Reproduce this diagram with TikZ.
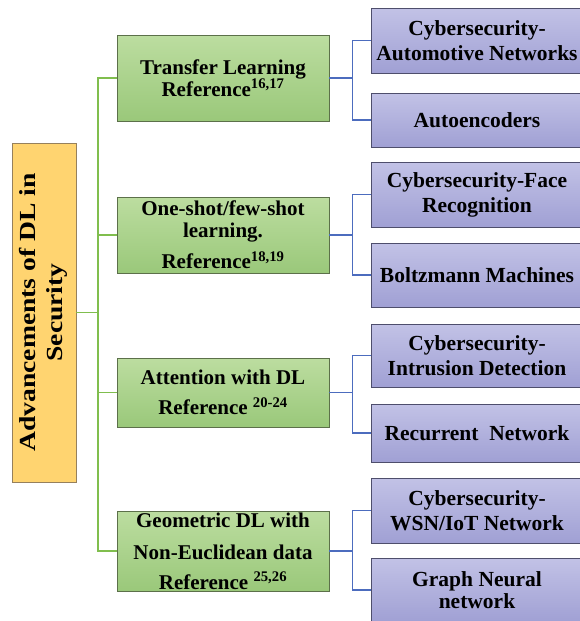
\documentclass[tikz,border=0pt]{standalone}
\usepackage{fontspec}
\setmainfont{Liberation Serif}
\newfontfamily\rootfont[FakeStretch=1.2]{Liberation Serif}
\usepackage{tikz}
\usetikzlibrary{positioning}

\definecolor{greentop}{RGB}{188,221,160}
\definecolor{greenbot}{RGB}{154,200,122}
\definecolor{greenedge}{RGB}{92,112,74}
\definecolor{bluetop}{RGB}{194,194,230}
\definecolor{bluebot}{RGB}{160,160,212}
\definecolor{blueedge}{RGB}{78,78,108}
\definecolor{rootfill}{RGB}{255,212,112}
\definecolor{rootedge}{RGB}{150,128,92}
\definecolor{trunkgreen}{RGB}{128,190,78}
\definecolor{branchblue}{RGB}{76,108,190}

\begin{document}
\begin{tikzpicture}[
  x=1pt, y=-1pt,
  rootbox/.style={rectangle, draw=rootedge, line width=0.8pt, fill=rootfill, minimum width=64pt, minimum height=339pt, inner sep=0pt, font=\fontsize{23}{27}\selectfont\rootfont\bfseries},
  topic/.style={rectangle, draw=greenedge, line width=0.9pt, top color=greentop, bottom color=greenbot, minimum width=212pt, inner sep=0pt, align=center, font=\fontsize{21}{22}\selectfont\bfseries},
  method/.style={rectangle, draw=blueedge, line width=0.9pt, top color=bluetop, bottom color=bluebot, minimum width=212pt, inner sep=0pt, align=center, font=\fontsize{21.5}{25}\selectfont\bfseries},
  trunkline/.style={draw=trunkgreen, line width=1.2pt},
  branchline/.style={draw=branchblue, line width=1.2pt}
]
  \useasboundingbox (0,0) rectangle (579,621);
  \fill[white] (0,0) rectangle (579,621);

  \node[rootbox] (root) at (44,312.5) {\rotatebox{90}{\begin{tabular}{@{}c@{}}Advancements of DL in\\ Security\end{tabular}}};

  \node[topic, minimum height=86pt] (transfer) at (223,78) {Transfer Learning\\ Reference\textsuperscript{16,17}};
  \node[topic, minimum height=76pt] (oneshot) at (223,235) {One-shot/few-shot\\ learning.\\[9pt] Reference\textsuperscript{18,19}};
  \node[topic, minimum height=69pt] (attention) at (223,392.5) {Attention with DL\\[8pt] Reference \textsuperscript{20-24}};
  \node[topic, minimum height=80pt] (geometric) at (223,551) {Geometric DL with\\[10pt] Non-Euclidean data\\[8pt] Reference \textsuperscript{25,26}};

  \node[method, minimum height=65pt] (automotive) at (477,40.5) {Cybersecurity-\\ Automotive Networks};
  \node[method, minimum height=54pt] (autoenc) at (477,120) {Autoencoders};
  \node[method, minimum height=65pt] (face) at (477,194.5) {Cybersecurity-Face\\ Recognition};
  \node[method, minimum height=64pt] (boltzmann) at (477,275) {Boltzmann Machines};
  \node[method, minimum height=63pt] (intrusion) at (477,355.5) {Cybersecurity-\\ Intrusion Detection};
  \node[method, minimum height=58pt] (recurrent) at (477,433) {Recurrent\ \ Network};
  \node[method, minimum height=65pt] (wsn) at (477,510.5) {Cybersecurity-\\ WSN/IoT Network};
  \node[method, minimum height=64pt] (gnn) at (477,590) {Graph Neural\\[-3pt] network};

  % green trunk
  \coordinate (trunk) at (98,0);
  \draw[trunkline] (transfer.west) -| (trunk |- geometric.west) -- (geometric.west);
  \draw[trunkline] (oneshot.west) -- (oneshot.west -| trunk);
  \draw[trunkline] (attention.west) -- (attention.west -| trunk);
  \draw[trunkline] (root.east) -- (root.east -| trunk);

  % blue branches
  \draw[branchline] (transfer.east) -- ++(23,0) coordinate (j1);
  \draw[branchline] (automotive.west) -| (j1) |- (autoenc.west);
  \draw[branchline] (oneshot.east) -- ++(23,0) coordinate (j2);
  \draw[branchline] (face.west) -| (j2) |- (boltzmann.west);
  \draw[branchline] (attention.east) -- ++(23,0) coordinate (j3);
  \draw[branchline] (intrusion.west) -| (j3) |- (recurrent.west);
  \draw[branchline] (geometric.east) -- ++(23,0) coordinate (j4);
  \draw[branchline] (wsn.west) -| (j4) |- (gnn.west);
\end{tikzpicture}
\end{document}
